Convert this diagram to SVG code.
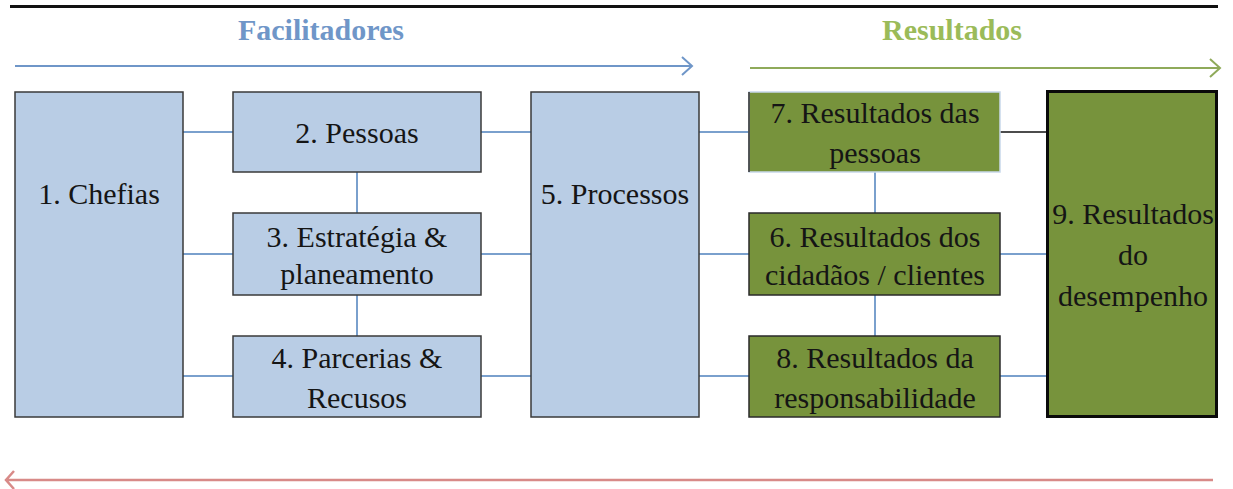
<svg xmlns="http://www.w3.org/2000/svg" width="1233" height="489" viewBox="0 0 1233 489" font-family="'Liberation Serif', 'Times New Roman', serif">
<defs>
<style>
.b{fill:#b9cde5;stroke:#3a3a3a;stroke-width:1.5}
.g{fill:#77933c;stroke:#2a2a2a;stroke-width:1.5}
.t{font-size:30px;fill:#151515;text-anchor:middle}
.h{font-size:30px;font-weight:bold;text-anchor:middle}
.c{stroke:#4f81bd;stroke-width:1.5;fill:none}
</style>
</defs>
<rect width="1233" height="489" fill="#fff"/>
<line x1="10" y1="6.5" x2="1218" y2="6.5" stroke="#111" stroke-width="3"/>
<text class="h" x="321" y="40" fill="#6f96c8">Facilitadores</text>
<text class="h" x="952" y="40" fill="#9bbb59">Resultados</text>
<g id="arrows" fill="none" stroke-width="2">
<path d="M15 66H692M682 57l10 9-10 9" stroke="#6f96c8"/>
<path d="M750 68H1220M1210 59l10 9-10 9" stroke="#8faa5a"/>
<path d="M1213 480H6M14 471l-8 9 8 9" stroke="#d88a88" stroke-width="2.5"/>
</g>
<g id="connectors">
<path class="c" d="M183 132H233M183 254H233M183 376H233M481 132H531M481 254H531M481 376H531M699 132H749M699 254H749M699 376H749M1000 254H1047M1000 376H1047M357 172V213M357 295V336M875 172V213M875 295V336"/>
<path d="M1000 132H1047" stroke="#111" stroke-width="1.5"/>
</g>
<g id="n1"><rect class="b" x="15" y="92" width="168" height="325"/><text class="t" x="99" y="204">1. Chefias</text></g>
<g id="n2"><rect class="b" x="233" y="92" width="248" height="80"/><text class="t" x="357" y="143">2. Pessoas</text></g>
<g id="n3"><rect class="b" x="233" y="213" width="248" height="82"/><text class="t" x="357" y="247">3. Estratégia &amp;</text><text class="t" x="357" y="284">planeamento</text></g>
<g id="n4"><rect class="b" x="233" y="336" width="248" height="81"/><text class="t" x="357" y="368">4. Parcerias &amp;</text><text class="t" x="357" y="408">Recusos</text></g>
<g id="n5"><rect class="b" x="531" y="92" width="168" height="325"/><text class="t" x="615" y="204">5. Processos</text></g>
<g id="n7"><rect x="749" y="92" width="251" height="80" fill="#77933c" stroke="#c8d8ea" stroke-width="1.5"/><line x1="749" y1="92" x2="749" y2="172" stroke="#2a2a2a" stroke-width="1.5"/><text class="t" x="875" y="123">7. Resultados das</text><text class="t" x="875" y="163">pessoas</text></g>
<g id="n6"><rect class="g" x="749" y="213" width="251" height="82"/><text class="t" x="875" y="247">6. Resultados dos</text><text class="t" x="875" y="285">cidadãos / clientes</text></g>
<g id="n8"><rect class="g" x="749" y="336" width="251" height="81"/><text class="t" x="875" y="368">8. Resultados da</text><text class="t" x="875" y="408">responsabilidade</text></g>
<g id="n9"><rect x="1047.5" y="91.5" width="169" height="325" fill="#77933c" stroke="#0a0a0a" stroke-width="3"/><text class="t" x="1133" y="224">9. Resultados</text><text class="t" x="1133" y="265">do</text><text class="t" x="1133" y="306">desempenho</text></g>
</svg>
